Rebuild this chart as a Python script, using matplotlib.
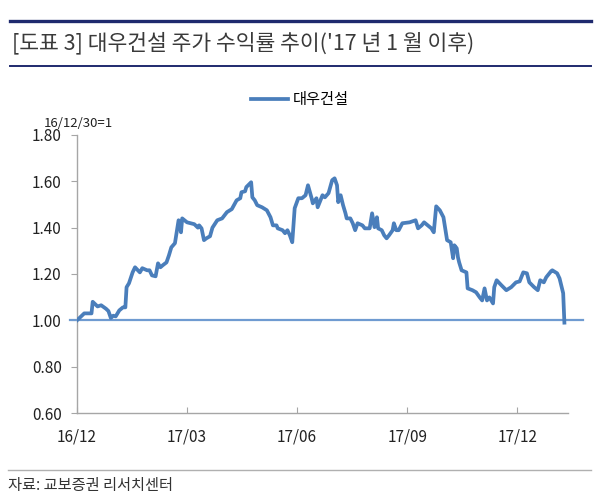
import matplotlib
matplotlib.use('Agg')
from datetime import datetime

from matplotlib import pyplot as plt
from matplotlib.lines import Line2D

plt.rcParams['font.family'] = ['Noto Sans CJK KR', 'DejaVu Sans']

# dates of the index points and the price ratio (16/12/30 = 1)
dates = [
    '2016-12-30', '2017-01-03', '2017-01-05', '2017-01-08', '2017-01-11',
    '2017-01-12', '2017-01-16', '2017-01-19', '2017-01-23', '2017-01-25',
    '2017-01-27', '2017-01-29', '2017-01-31', '2017-02-03', '2017-02-06',
    '2017-02-08', '2017-02-09', '2017-02-11', '2017-02-14', '2017-02-16',
    '2017-02-20', '2017-02-22', '2017-02-26', '2017-02-28', '2017-03-02',
    '2017-03-05', '2017-03-07', '2017-03-09', '2017-03-11', '2017-03-14',
    '2017-03-16', '2017-03-18', '2017-03-21', '2017-03-24', '2017-03-26',
    '2017-03-27', '2017-03-31', '2017-04-03', '2017-04-06', '2017-04-09',
    '2017-04-10', '2017-04-12', '2017-04-14', '2017-04-16', '2017-04-19',
    '2017-04-21', '2017-04-25', '2017-04-29', '2017-05-03', '2017-05-07',
    '2017-05-11', '2017-05-14', '2017-05-15', '2017-05-18', '2017-05-19',
    '2017-05-23', '2017-05-24', '2017-05-26', '2017-05-28', '2017-06-01',
    '2017-06-05', '2017-06-08', '2017-06-10', '2017-06-13', '2017-06-14',
    '2017-06-18', '2017-06-20', '2017-06-22', '2017-06-24', '2017-06-26',
    '2017-06-28', '2017-07-01', '2017-07-04', '2017-07-07', '2017-07-09',
    '2017-07-12', '2017-07-13', '2017-07-16', '2017-07-17', '2017-07-21',
    '2017-07-23', '2017-07-26', '2017-07-29', '2017-07-31', '2017-08-02',
    '2017-08-03', '2017-08-05', '2017-08-07', '2017-08-09', '2017-08-10',
    '2017-08-13', '2017-08-15', '2017-08-17', '2017-08-19', '2017-08-23',
    '2017-08-25', '2017-08-29', '2017-08-31', '2017-09-02', '2017-09-04',
    '2017-09-05', '2017-09-08', '2017-09-10', '2017-09-12', '2017-09-14',
    '2017-09-17', '2017-09-18', '2017-09-20', '2017-09-22', '2017-09-25',
    '2017-10-01', '2017-10-06', '2017-10-08', '2017-10-11', '2017-10-13',
    '2017-10-16', '2017-10-19', '2017-10-21', '2017-10-23', '2017-10-26',
    '2017-10-29', '2017-11-01', '2017-11-04', '2017-11-06', '2017-11-07',
    '2017-11-09', '2017-11-10', '2017-11-11', '2017-11-13', '2017-11-17',
    '2017-11-18', '2017-11-22', '2017-11-25', '2017-11-28', '2017-11-30',
    '2017-12-02', '2017-12-04', '2017-12-06', '2017-12-09', '2017-12-10',
    '2017-12-12', '2017-12-16', '2017-12-20', '2017-12-24', '2017-12-28',
    '2017-12-31', '2018-01-03', '2018-01-06', '2018-01-08', '2018-01-12',
    '2018-01-15', '2018-01-17', '2018-01-20', '2018-01-22', '2018-01-26',
    '2018-01-27', '2018-01-31', '2018-02-02', '2018-02-05', '2018-02-06',
]
daewoo = [
    1.00, 1.02, 1.03, 1.03, 1.03, 1.08, 1.06, 1.065, 1.05, 1.04,
    1.01, 1.02, 1.017, 1.043, 1.056, 1.056, 1.143, 1.16, 1.207, 1.229,
    1.207, 1.225, 1.216, 1.216, 1.194, 1.19, 1.246, 1.229, 1.238, 1.25,
    1.28, 1.315, 1.333, 1.432, 1.38, 1.44, 1.423, 1.419, 1.415, 1.40,
    1.41, 1.397, 1.346, 1.354, 1.363, 1.40, 1.432, 1.44, 1.467, 1.48,
    1.518, 1.527, 1.553, 1.557, 1.575, 1.596, 1.531, 1.518, 1.497, 1.488,
    1.475, 1.445, 1.41, 1.41, 1.397, 1.389, 1.376, 1.389, 1.367, 1.337,
    1.484, 1.527, 1.527, 1.54, 1.583, 1.527, 1.505, 1.527, 1.488, 1.54,
    1.531, 1.549, 1.605, 1.613, 1.583, 1.51, 1.54, 1.497, 1.462, 1.44,
    1.44, 1.419, 1.389, 1.419, 1.41, 1.397, 1.397, 1.462, 1.402, 1.445,
    1.397, 1.389, 1.367, 1.354, 1.367, 1.389, 1.419, 1.389, 1.389, 1.419,
    1.423, 1.432, 1.397, 1.41, 1.423, 1.41, 1.397, 1.38, 1.492, 1.475,
    1.445, 1.346, 1.337, 1.268, 1.324, 1.311, 1.272, 1.25, 1.216, 1.207,
    1.138, 1.13, 1.121, 1.099, 1.086, 1.138, 1.086, 1.099, 1.073, 1.143,
    1.173, 1.151, 1.13, 1.143, 1.164, 1.168, 1.207, 1.203, 1.164, 1.143,
    1.13, 1.173, 1.164, 1.186, 1.212, 1.216, 1.203, 1.181, 1.117, 0.99,
]

tick_dates = ['2016-12-30', '2017-03-31', '2017-06-30', '2017-09-29', '2017-12-29']
tick_labels = ['16/12', '17/03', '17/06', '17/09', '17/12']
y_ticks = [0.60, 0.80, 1.00, 1.20, 1.40, 1.60, 1.80]

x = [datetime.strptime(d, '%Y-%m-%d') for d in dates]
xt = [datetime.strptime(d, '%Y-%m-%d') for d in tick_dates]

fig = plt.figure(figsize=(6, 4.97), dpi=100)
ax = fig.add_axes([0.1283, 0.169, 0.8184, 0.5594])

line_color = '#4a7ebb'
axis_color = '#a6a6a6'

# base line at 1.0, drawn a bit past both ends of the axis like the original
ax.axhline(1.0, xmin=-0.015, xmax=1.03, color='#6f9bd1', lw=1.6, clip_on=False, zorder=2)
ax.plot(x, daewoo, color=line_color, lw=2.7, label='대우건설', zorder=3,
        solid_joinstyle='round')

ax.set_xlim(datetime(2016, 12, 30), datetime(2018, 2, 9))
ax.set_ylim(0.6, 1.8)
ax.set_yticks(y_ticks)
ax.set_yticklabels(['%.2f' % v for v in y_ticks])
ax.set_xticks(xt)
ax.set_xticklabels(tick_labels)

for side in ['top', 'right']:
    ax.spines[side].set_visible(False)
for side in ['left', 'bottom']:
    ax.spines[side].set_color(axis_color)
    ax.spines[side].set_linewidth(1.0)

ax.tick_params(axis='y', direction='out', length=4, color=axis_color,
               labelsize=11, labelcolor='#222222', pad=7)
ax.tick_params(axis='x', direction='in', length=4, color=axis_color,
               labelsize=11, labelcolor='#222222', pad=11)

# unit note above the y axis
fig.text(0.073, 0.752, '16/12/30=1', fontsize=9.5, color='#222222', ha='left', va='center')

# legend
ax.legend(loc='center', bbox_to_anchor=(0.5, 0.799), bbox_transform=fig.transFigure,
          frameon=False, fontsize=11, handlelength=2.4, handletextpad=0.3)

# title block with navy rules
fig.add_artist(Line2D([0.017, 0.985], [0.958, 0.958], color='#1f2a6e', lw=2.4))
fig.add_artist(Line2D([0.017, 0.985], [0.867, 0.867], color='#1f2a6e', lw=1.4))
fig.text(0.02, 0.913, "[도표 3] 대우건설 주가 수익률 추이('17 년 1 월 이후)",
         fontsize=15.5, color='#3a3a3a', ha='left', va='center')

# source footer
fig.add_artist(Line2D([0.013, 0.985], [0.054, 0.054], color='#b0b0b0', lw=1.0))
fig.text(0.013, 0.024, '자료: 교보증권 리서치센터', fontsize=11, color='#333333',
         ha='left', va='center')

fig.savefig('out.png', dpi=100)
